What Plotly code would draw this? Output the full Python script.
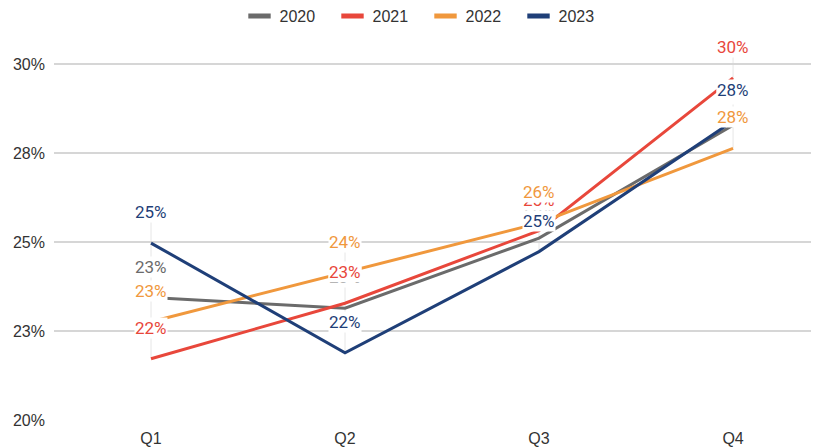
import plotly.graph_objects as go

quarters = ["Q1", "Q2", "Q3", "Q4"]
years = ["2020", "2021", "2022", "2023"]
values_2020 = [0.2344, 0.2314, 0.2511, 0.2828]
values_2021 = [0.2172, 0.2328, 0.2532, 0.2961]
values_2022 = [0.2276, 0.2414, 0.2553, 0.2763]
values_2023 = [0.2497, 0.2189, 0.2473, 0.2840]
series = [values_2020, values_2021, values_2022, values_2023]
colors = ["#6b6b6b", "#e8473b", "#f0983d", "#1f3f78"]

y_tickvals = [0.20, 0.225, 0.25, 0.275, 0.30]
y_ticktext = ["20%", "23%", "25%", "28%", "30%"]

W, H = 811, 439

fig = go.Figure()

# faint vertical leader lines at each category
shapes = []
for i, q in enumerate(quarters):
    col = [s[i] for s in series]
    shapes.append(dict(type="line", xref="x", yref="y", x0=i, x1=i,
                       y0=min(col), y1=max(col), layer="below",
                       line=dict(color="#e6e6e6", width=1)))
    shapes.append(dict(type="line", xref="x", yref="y", x0=i, x1=i,
                       ysizemode="pixel", yanchor=max(col), y0=0, y1=40,
                       layer="below", line=dict(color="#e6e6e6", width=1)))

for name, vals, c in zip(years, series, colors):
    fig.add_trace(go.Scatter(x=list(range(len(quarters))), y=vals, mode="lines",
                             name=name, showlegend=False, cliponaxis=False,
                             line=dict(color=c, width=3), hoverinfo="skip"))
    fig.add_trace(go.Scatter(x=[None], y=[None], mode="markers", name=name,
                             marker=dict(symbol="line-ew", size=16, color=c,
                                         line=dict(color=c, width=5))))

annotations = []
for name, vals, c in zip(years, series, colors):
    for i, v in enumerate(vals):
        annotations.append(dict(x=i, y=v, xref="x", yref="y",
                                text=f"{round(v * 100)}%", showarrow=False,
                                yshift=31, yanchor="middle",
                                font=dict(family="Roboto", size=17, color=c),
                                bgcolor="white", borderpad=0))

fig.update_layout(
    width=W, height=H,
    margin=dict(l=46, r=0, t=22, b=27, autoexpand=False),
    paper_bgcolor="white", plot_bgcolor="white",
    shapes=shapes, annotations=annotations,
    showlegend=True,
    legend=dict(orientation="h", x=231.5 / W, xref="container", xanchor="left",
                y=1 - 8 / H, yref="container", yanchor="middle", entrywidth=48,
                font=dict(family="Liberation Sans, Arial", size=16, color="#333333"),
                itemclick=False),
    xaxis=dict(range=[-0.5, 3.443], tickvals=list(range(len(quarters))),
               ticktext=quarters, showgrid=False, zeroline=False, showline=False,
               ticks="", ticklabelstandoff=7, automargin=False,
               tickfont=dict(family="Liberation Sans, Arial", size=16, color="#333333")),
    yaxis=dict(range=[0.20, 0.30955], tickvals=y_tickvals, ticktext=y_ticktext,
               showgrid=True, gridcolor="#d6d6d6", gridwidth=1.5, zeroline=False,
               showline=False, ticks="", ticklabelstandoff=8, automargin=False,
               tickfont=dict(family="Liberation Sans, Arial", size=16, color="#333333")),
)

fig.write_html("out.html")
